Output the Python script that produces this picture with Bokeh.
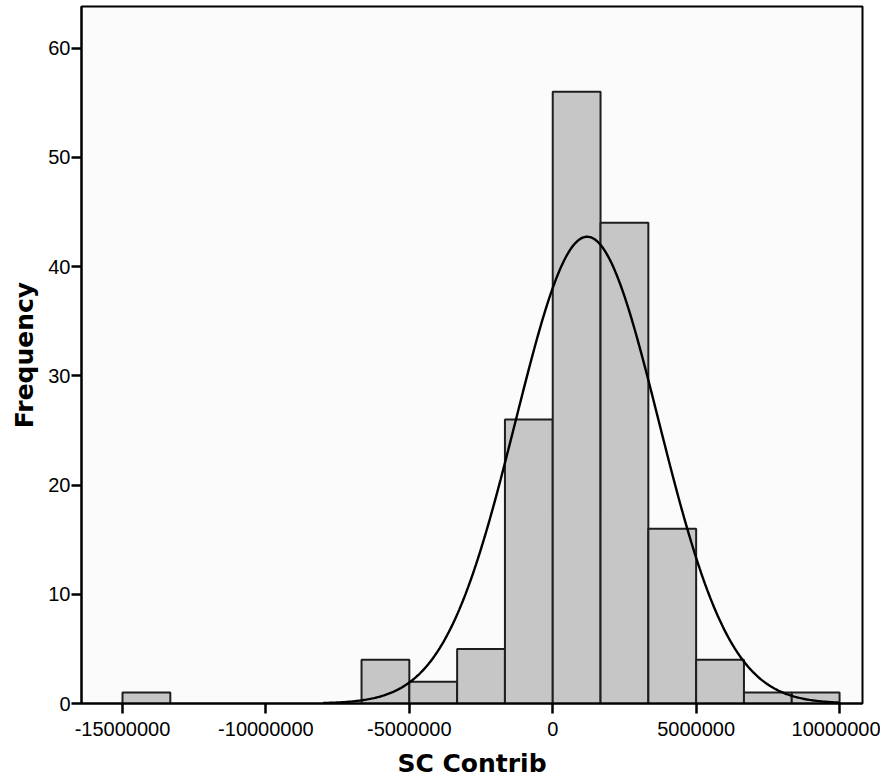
import numpy as np
from bokeh.plotting import figure
from bokeh.models import FixedTicker
from bokeh.embed import file_html
from bokeh.resources import INLINE

# Histogram data (SC Contrib), bin width = 5,000,000 / 3
bin_left = [-15000000, -13333333, -11666667, -10000000, -8333333, -6666667,
            -5000000, -3333333, -1666667, 0, 1666667, 3333333, 5000000,
            6666667, 8333333]
bin_right = [-13333333, -11666667, -10000000, -8333333, -6666667, -5000000,
             -3333333, -1666667, 0, 1666667, 3333333, 5000000, 6666667,
             8333333, 10000000]
counts = [1, 0, 0, 0, 0, 4, 2, 5, 26, 56, 44, 16, 4, 1, 1]

x_ticks = [-15000000, -10000000, -5000000, 0, 5000000, 10000000]
x_tick_labels = ["-15000000", "-10000000", "-5000000", "0", "5000000", "10000000"]
y_ticks = [0, 10, 20, 30, 40, 50, 60]

# fitted normal curve parameters
fit_mean = 1200000
fit_sd = 2490000

n_total = sum(counts)
bw = 5000000 / 3

p = figure(frame_width=781, frame_height=697,
           x_range=(-16430000, 10800000), y_range=(0, 63.8),
           output_backend="svg", toolbar_location=None,
           min_border_left=81, min_border_top=6, min_border_right=18,
           min_border_bottom=70, background_fill_color="#fbfbfb",
           border_fill_color="white")

lefts = [l for l, c in zip(bin_left, counts) if c > 0]
rights = [r for r, c in zip(bin_right, counts) if c > 0]
tops = [c for c in counts if c > 0]
p.quad(left=lefts, right=rights, bottom=0, top=tops,
       fill_color="#c6c6c6", line_color="#1e1e1e", line_width=2)

xs = np.linspace(-8000000, 10000000, 400)
ys = n_total * bw / (fit_sd * np.sqrt(2 * np.pi)) * np.exp(-0.5 * ((xs - fit_mean) / fit_sd) ** 2)
p.line(xs, ys, line_color="black", line_width=2.4)

p.grid.visible = False
p.outline_line_color = "black"
p.outline_line_width = 2

p.xaxis.ticker = FixedTicker(ticks=x_ticks)
p.xaxis.major_label_overrides = {t: s for t, s in zip(x_ticks, x_tick_labels)}
p.yaxis.ticker = FixedTicker(ticks=y_ticks)
p.xaxis.minor_tick_line_color = None
p.yaxis.minor_tick_line_color = None

for ax in (p.xaxis, p.yaxis):
    ax.axis_line_color = "black"
    ax.axis_line_width = 2
    ax.major_tick_line_color = "black"
    ax.major_tick_line_width = 2.5
    ax.major_tick_in = 0
    ax.major_tick_out = 10
    ax.major_label_text_font = "Liberation Sans"
    ax.major_label_text_font_size = "20px"
    ax.major_label_text_color = "black"
    ax.axis_label_text_font = "DejaVu Sans"
    ax.axis_label_text_font_size = "25px"
    ax.axis_label_text_font_style = "bold"
    ax.axis_label_text_color = "black"

p.xaxis.axis_label = "SC Contrib"
p.yaxis.axis_label = "Frequency"
p.xaxis.major_label_standoff = 8
p.xaxis.axis_label_standoff = 10
p.yaxis.major_label_standoff = 1
p.yaxis.axis_label_standoff = 6

open("out.html", "w").write(file_html(p, INLINE))
